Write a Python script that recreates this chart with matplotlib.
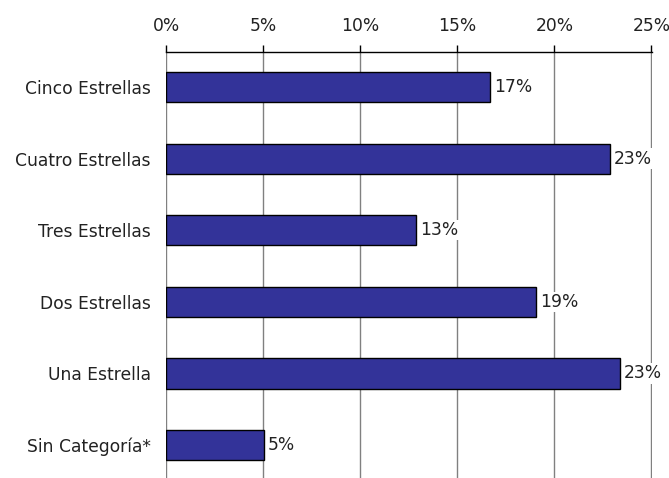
import matplotlib
matplotlib.use("Agg")
import matplotlib.pyplot as plt

categories = ["Cinco Estrellas", "Cuatro Estrellas", "Tres Estrellas",
              "Dos Estrellas", "Una Estrella", "Sin Categoría*"]
shares = [16.7, 22.85, 12.9, 19.05, 23.4, 5.05]
tick_values = [0, 5, 10, 15, 20, 25]
tick_labels = ["0%", "5%", "10%", "15%", "20%", "25%"]

plt.rcParams["font.family"] = ["DejaVu Sans"]
text_color = "#222222"
fs = 12.3

fig = plt.figure(figsize=(6.69, 4.78), dpi=100)
ax = fig.add_axes([166 / 669, 0.0, 486 / 669, 1 - 52 / 478])

y = list(range(len(categories)))
ax.barh(y, shares, height=0.42, color="#333399", edgecolor="black",
        linewidth=1.0, zorder=3)

for yi, v in zip(y, shares):
    ax.text(v + 0.2, yi, f"{v:.0f}%", va="center", ha="left", fontsize=fs,
            color=text_color, zorder=4,
            bbox=dict(facecolor="white", edgecolor="none", pad=0.8))

ax.set_xlim(0, 25.03)
ax.set_ylim(5.46, -0.49)
ax.set_yticks(y)
ax.set_yticklabels(categories, fontsize=fs, color=text_color)
ax.tick_params(axis="y", length=0, pad=11)

ax.xaxis.tick_top()
ax.set_xticks(tick_values)
ax.set_xticklabels(tick_labels, fontsize=fs, color=text_color)
ax.tick_params(axis="x", direction="out", length=5, width=1, color="black",
               pad=7)

ax.grid(axis="x", color="#808080", linewidth=1.0, zorder=0)
for side in ("right", "bottom", "left"):
    ax.spines[side].set_visible(False)
ax.spines["top"].set_color("black")
ax.spines["top"].set_linewidth(1.0)

fig.savefig("out.png", dpi=100)
